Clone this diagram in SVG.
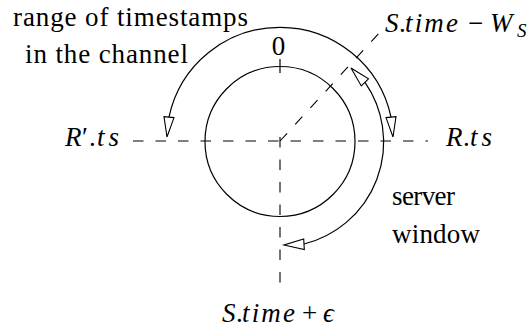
<svg xmlns="http://www.w3.org/2000/svg" width="532" height="331" viewBox="0 0 532 331">
<style>
text{font-family:'Liberation Serif','Times New Roman',serif;font-size:27px;fill:#000}
.i{font-style:italic}
.ln{fill:none;stroke:#000;stroke-width:1.2}
.d{fill:none;stroke:#000;stroke-width:1.1;stroke-dasharray:10.5 12}
.ah{fill:#fff;stroke:#000;stroke-width:1.1;stroke-linejoin:miter}
</style>
<rect width="532" height="331" fill="#fff"/>
<g id="axes">
<line class="d" x1="133" y1="141" x2="428" y2="141"/>
<line class="d" x1="280" y1="137" x2="280" y2="287"/>
<line class="d" x1="280" y1="141" x2="380" y2="32"/>
<line class="ln" x1="280" y1="59" x2="280" y2="73"/>
</g>
<g id="circle">
<circle class="ln" cx="280" cy="141.5" r="75"/>
</g>
<g id="connectors">
<path class="ln" d="M169 117.1 A113.5 113.5 0 0 1 391 117.1"/>
<polygon class="ah" points="167,137 174,117.6 164,116.6"/>
<polygon class="ah" points="393,137 386,117.6 396,116.6"/>
<path class="ln" d="M365 82.4 A105 105 0 0 1 304 244"/>
<polygon class="ah" points="351,68 368.5,78.9 361.3,85.9"/>
<polygon class="ah" points="284,245 304.3,249.5 303.7,239"/>
</g>
<g id="label-range">
<text x="13" y="26" textLength="235" lengthAdjust="spacing">range of timestamps</text>
<text x="25" y="63" textLength="163" lengthAdjust="spacing">in the channel</text>
</g>
<g id="label-zero">
<text x="278.5" y="55" text-anchor="middle">0</text>
</g>
<g id="label-stw">
<text y="32"><tspan class="i" x="385">S</tspan><tspan x="399">.</tspan><tspan class="i" x="405" textLength="53" lengthAdjust="spacing">time</tspan><tspan x="468">−</tspan><tspan class="i" x="490">W</tspan><tspan class="i" x="517" dy="5" font-size="19">S</tspan></text>
</g>
<g id="label-rpts">
<text y="146"><tspan class="i" x="65">R</tspan><tspan x="82">′</tspan><tspan x="89">.</tspan><tspan class="i" x="97" textLength="22" lengthAdjust="spacing">ts</tspan></text>
</g>
<g id="label-rts">
<text y="146"><tspan class="i" x="446">R</tspan><tspan x="463">.</tspan><tspan class="i" x="470" textLength="22" lengthAdjust="spacing">ts</tspan></text>
</g>
<g id="label-server">
<text x="392" y="205" textLength="63" lengthAdjust="spacing">server</text>
<text x="392" y="243" textLength="88" lengthAdjust="spacing">window</text>
</g>
<g id="label-ste">
<text y="322"><tspan class="i" x="222">S</tspan><tspan x="236">.</tspan><tspan class="i" x="242" textLength="53" lengthAdjust="spacing">time</tspan><tspan x="302">+</tspan><tspan class="i" x="323">ϵ</tspan></text>
</g>
</svg>
